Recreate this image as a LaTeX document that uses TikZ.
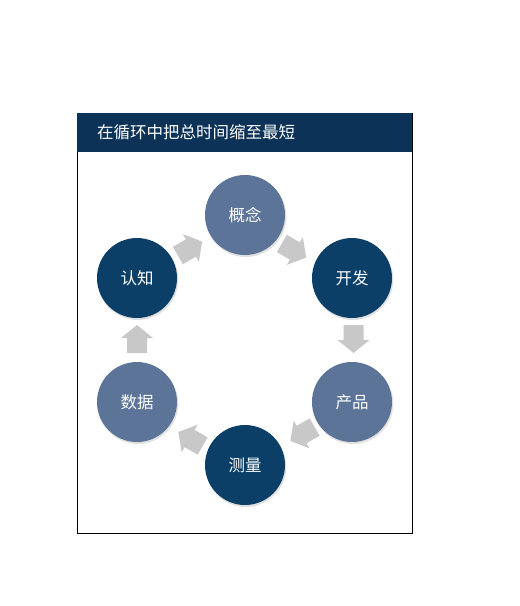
\documentclass[tikz,border=0pt]{standalone}
\usepackage{fontspec}
\newfontfamily\cjk{Noto Sans CJK SC}
\definecolor{hdr}{HTML}{0C3357}
\definecolor{darkc}{HTML}{0B3F68}
\definecolor{lightc}{HTML}{5B7497}
\definecolor{arr}{HTML}{C8C8C8}
\begin{document}
\begin{tikzpicture}[x=1pt,y=-1pt,
  stage/.style={circle,minimum size=80pt,inner sep=0pt,text=white,font=\cjk\fontsize{16.5}{17}\selectfont},
  darkstage/.style={stage,fill=darkc},
  lightstage/.style={stage,fill=lightc},
  shade/.style={circle,minimum size=81pt,inner sep=0pt,fill=black,opacity=0.12},
  barrow/.pic={\fill[arr] (-14,-10) -- (1,-10) -- (1,-16) -- (14,0) -- (1,16) -- (1,10) -- (-14,10) -- cycle;}
]
\useasboundingbox (0,0) rectangle (520,606);
\fill[white] (0,0) rectangle (520,606);
% frame and header
\node[draw=black,line width=0.8pt,minimum width=335pt,minimum height=420pt,inner sep=0pt,anchor=north west] (frame) at (77,113) {};
\node[fill=hdr,minimum width=335pt,minimum height=39pt,inner sep=0pt,anchor=north west] (header) at (77,113) {};
\node[anchor=west,text=white,font=\cjk\fontsize{16.5}{17}\selectfont,inner sep=0pt] (title) at (97,132.5) {在循环中把总时间缩至最短};
% shadows
\foreach \cx/\cy in {245/215,352/278,352/402,245/465,137/402,137/278}
  \node[shade] at (\cx+0.8,\cy+1.5) {};
% stages
\node[lightstage] (gainian) at (245,215) {概念};
\node[darkstage]  (kaifa)   at (352,278) {开发};
\node[lightstage] (chanpin) at (352,402) {产品};
\node[darkstage]  (celiang) at (245,465) {测量};
\node[lightstage] (shuju)   at (137,402) {数据};
\node[darkstage]  (renzhi)  at (137,278) {认知};
% arrows
\pic[rotate=30]  (a1) at (190,248.5) {barrow};
\pic[rotate=-30] (a2) at (294,250.5) {barrow};
\pic[rotate=-90] (a3) at (353.5,339) {barrow};
\pic[rotate=210] (a4) at (302.5,434) {barrow};
\pic[rotate=150] (a5) at (190.5,439) {barrow};
\pic[rotate=90]  (a6) at (137,339) {barrow};
\end{tikzpicture}
\end{document}
